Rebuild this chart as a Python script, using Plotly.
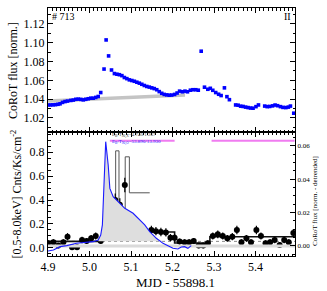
import plotly.graph_objects as go

# ---------------- data ----------------
# Top panel: CoRoT light curve (normalised)
corot_t = [4.900, 4.906, 4.912, 4.918, 4.924, 4.929, 4.935, 4.941, 4.947, 4.955,
           4.961, 4.967, 4.973, 4.979, 4.985, 4.991, 4.997, 5.003, 5.009, 5.015,
           5.021, 5.027, 5.035, 5.040, 5.046, 5.053, 5.060, 5.066, 5.072, 5.078,
           5.084, 5.090, 5.096, 5.102, 5.108, 5.114, 5.120, 5.126, 5.132, 5.138,
           5.144, 5.150, 5.156, 5.162, 5.168, 5.174, 5.180, 5.186, 5.192, 5.198,
           5.205, 5.211, 5.217, 5.224, 5.230, 5.236, 5.243, 5.249, 5.256, 5.262,
           5.269, 5.277, 5.285, 5.291, 5.297, 5.304, 5.311, 5.317, 5.325, 5.331,
           5.337, 5.352, 5.358, 5.364, 5.370, 5.376, 5.382, 5.388, 5.394, 5.401,
           5.407, 5.422, 5.428, 5.434, 5.441, 5.447, 5.453, 5.460, 5.466, 5.473,
           5.479, 5.484, 5.492]
corot_flux = [1.0338, 1.0338, 1.0339, 1.0341, 1.0345, 1.0350, 1.0365, 1.0374, 1.0379, 1.0386,
              1.0390, 1.0398, 1.0400, 1.0397, 1.0392, 1.0398, 1.0404, 1.0410, 1.0410, 1.0418,
              1.0428, 1.0470, 1.0720, 1.1030, 1.0860, 1.0710, 1.0672, 1.0665, 1.0660, 1.0650,
              1.0630, 1.0618, 1.0605, 1.0598, 1.0590, 1.0580, 1.0570, 1.0558, 1.0545, 1.0535,
              1.0528, 1.0520, 1.0512, 1.0500, 1.0480, 1.0462, 1.0450, 1.0445, 1.0442, 1.0443,
              1.0450, 1.0465, 1.0485, 1.0478, 1.0485, 1.0478, 1.0495, 1.0500, 1.0500, 1.0495,
              1.0910, 1.0527, 1.0505, 1.0515, 1.0494, 1.0470, 1.0452, 1.0438, 1.0520, 1.0426,
              1.0394, 1.0338, 1.0335, 1.0325, 1.0322, 1.0315, 1.0310, 1.0305, 1.0303, 1.0320,
              1.0338, 1.0326, 1.0320, 1.0322, 1.0328, 1.0337, 1.0330, 1.0320, 1.0312, 1.0310,
              1.0315, 1.0326, 1.0250]
trend_t = [4.900, 5.230]
trend_flux = [1.0380, 1.0445]

# Bottom panel: detrended CoRoT flux (right axis)
det_t = [4.900, 4.913, 4.929, 4.945, 4.969, 4.993, 5.009, 5.021, 5.027, 5.031,
         5.039, 5.045, 5.049, 5.057, 5.073, 5.085, 5.105, 5.121, 5.133, 5.145,
         5.161, 5.177, 5.189, 5.193, 5.201, 5.213, 5.221, 5.229, 5.237, 5.245]
det_flux = [-0.0030, -0.0024, -0.0004, 0.0002, 0.0016, 0.0022, 0.0026, 0.0036, 0.0066, 0.0126,
            0.0625, 0.0485, 0.0345, 0.0295, 0.0256, 0.0226, 0.0196, 0.0156, 0.0126, 0.0086,
            0.0046, 0.0016, 0.0002, -0.0004, -0.0014, -0.0018, -0.0006, -0.0004, -0.0014, 0.0002]
fill_floor = 0.0028
det_zero = 0.0

# Bottom panel: X-ray count rate [0.5-8.0 keV]
xray_t = [4.900, 4.913, 4.925, 4.937, 4.947, 4.958, 4.970, 4.982, 4.993, 5.004,
          5.015, 5.027, 5.038, 5.050, 5.062, 5.073, 5.085, 5.149, 5.160, 5.172,
          5.184, 5.195, 5.205, 5.217, 5.229, 5.240, 5.251, 5.263, 5.274, 5.285,
          5.297, 5.309, 5.321, 5.332, 5.344, 5.355, 5.366, 5.378, 5.389, 5.402,
          5.413, 5.424, 5.435, 5.446, 5.458, 5.469, 5.480, 5.491]
xray_rate = [0.040, 0.047, 0.020, 0.047, 0.094, 0.006, 0.006, 0.067, 0.058, 0.080,
             0.100, 0.058, 0.130, 0.280, 0.400, 0.360, 0.525, 0.150, 0.140, 0.133,
             0.130, 0.086, 0.086, 0.053, 0.047, 0.047, 0.058, 0.020, 0.020, 0.039,
             0.100, 0.114, 0.100, 0.080, 0.094, 0.150, 0.047, 0.080, 0.047, 0.150,
             0.100, 0.039, 0.047, 0.067, 0.025, 0.067, 0.047, 0.125]
xray_err = [0.025, 0.025, 0.022, 0.025, 0.030, 0.020, 0.020, 0.027, 0.025, 0.028,
            0.030, 0.025, 0.035, 0.045, 0.055, 0.055, 0.060, 0.035, 0.035, 0.035,
            0.035, 0.030, 0.030, 0.025, 0.025, 0.025, 0.025, 0.022, 0.022, 0.025,
            0.030, 0.032, 0.030, 0.028, 0.030, 0.035, 0.025, 0.028, 0.025, 0.035,
            0.030, 0.025, 0.025, 0.027, 0.022, 0.027, 0.025, 0.033]

# Bayesian blocks
block_edges = [4.900, 5.030, 5.145, 5.205, 5.290, 5.495]
block_rates = [0.055, 0.100, 0.133, 0.042, 0.094]
flare_edges = [5.030, 5.052, 5.063, 5.071, 5.086, 5.096, 5.145]
flare_rates = [0.100, 0.300, 0.810, 0.260, 0.760, 0.460]
quiescent_level = 0.055

# Optical coverage markers
cover_start = [5.049, 5.294]
cover_end = [5.205, 5.494]
cover_level = 0.893

x_range = [4.900, 5.495]
label_x = 5.049
label_xray = "E<sub>B</sub>/T<sub>90,X</sub>=4.740/1.267"
label_opt = "E<sub>B</sub>/T<sub>90,O</sub>=53.890/13.930"

# ---------------- figure ----------------
FONT = "Liberation Serif, Times New Roman, serif"
fig = go.Figure()

# top panel
fig.add_trace(go.Scatter(x=trend_t, y=trend_flux, mode="lines",
                         line=dict(color="#c4c4c4", width=3.5),
                         xaxis="x2", yaxis="y3", hoverinfo="skip"))
fig.add_trace(go.Scatter(x=corot_t, y=corot_flux, mode="markers",
                         marker=dict(symbol="square", size=3.6, color="#0000ff", line=dict(width=0)),
                         xaxis="x2", yaxis="y3"))

# bottom panel
fig.add_trace(go.Scatter(x=x_range, y=[det_zero, det_zero], mode="lines",
                         line=dict(color="#dadada", width=3), xaxis="x", yaxis="y2",
                         hoverinfo="skip"))
fill_t = [t for t, f in zip(det_t, det_flux) if 5.020 <= t <= 5.180]
fill_f = [max(f, fill_floor) for t, f in zip(det_t, det_flux) if 5.020 <= t <= 5.180]
fig.add_trace(go.Scatter(x=fill_t, y=[fill_floor] * len(fill_t), mode="lines",
                         line=dict(width=0, color="rgba(0,0,0,0)"), xaxis="x", yaxis="y2",
                         hoverinfo="skip"))
fig.add_trace(go.Scatter(x=fill_t, y=fill_f, mode="lines", fill="tonexty",
                         fillcolor="#dedede", line=dict(width=0, color="rgba(0,0,0,0)"),
                         xaxis="x", yaxis="y2", hoverinfo="skip"))
fig.add_trace(go.Scatter(x=x_range, y=[quiescent_level, quiescent_level], mode="lines",
                         line=dict(color="#888888", width=1, dash="dot"),
                         xaxis="x", yaxis="y", hoverinfo="skip"))
fig.add_trace(go.Scatter(x=det_t, y=det_flux, mode="lines",
                         line=dict(color="#1a1aff", width=1.1), xaxis="x", yaxis="y2"))
fig.add_trace(go.Scatter(x=flare_edges, y=flare_rates + [flare_rates[-1]], mode="lines",
                         line=dict(color="#555555", width=1, shape="hv"),
                         xaxis="x", yaxis="y", hoverinfo="skip"))
fig.add_trace(go.Scatter(x=block_edges, y=block_rates + [block_rates[-1]], mode="lines",
                         line=dict(color="#111111", width=1.6, shape="hv"),
                         xaxis="x", yaxis="y", hoverinfo="skip"))
fig.add_trace(go.Scatter(x=xray_t, y=xray_rate, mode="markers",
                         marker=dict(symbol="circle", size=6, color="black"),
                         error_y=dict(type="data", array=xray_err, color="black",
                                      thickness=1.2, width=0),
                         xaxis="x", yaxis="y"))
cx, cy = [], []
for s, e in zip(cover_start, cover_end):
    cx += [s, e, None]
    cy += [cover_level, cover_level, None]
fig.add_trace(go.Scatter(x=cx, y=cy, mode="lines", line=dict(color="#f07cf0", width=2),
                         xaxis="x", yaxis="y", hoverinfo="skip"))

tick_font = dict(family=FONT, size=12, color="black")
common_x = dict(range=x_range, ticks="inside", ticklen=5, tickwidth=1, dtick=0.1, tick0=0,
                showline=True, linecolor="black", linewidth=1, mirror="ticks",
                showgrid=False, zeroline=False, tickcolor="black",
                minor=dict(dtick=0.01, ticklen=2.5, ticks="inside", tickcolor="black"))

fig.update_layout(
    width=327, height=291,
    margin=dict(l=48, r=32, t=8, b=35),
    paper_bgcolor="white", plot_bgcolor="white",
    showlegend=False,
    font=dict(family=FONT, color="black"),
    xaxis=dict(**common_x, domain=[0, 1], anchor="y", tickfont=tick_font,
               tickformat=".1f"),
    xaxis2=dict(**common_x, domain=[0, 1], anchor="y3", showticklabels=False),
    yaxis=dict(domain=[0, 0.5], anchor="x", range=[-0.067, 0.967], dtick=0.2, tick0=0,
               tickformat=".1f", ticks="inside", ticklen=5, tickcolor="black",
               showline=True, linecolor="black", linewidth=1, mirror=False,
               showgrid=False, zeroline=False, tickfont=tick_font,
               minor=dict(dtick=0.05, ticklen=2.5, ticks="inside", tickcolor="black")),
    yaxis2=dict(overlaying="y", anchor="x", side="right", range=[-0.006, 0.0683],
                dtick=0.02, tick0=0, tickformat=".2f", ticks="inside", ticklen=5,
                tickcolor="black", showline=True, linecolor="black", linewidth=1,
                showgrid=False, zeroline=False,
                tickfont=dict(family=FONT, size=7, color="black"),
                minor=dict(dtick=0.005, ticklen=2.5, ticks="inside", tickcolor="black")),
    yaxis3=dict(domain=[0.5, 1], anchor="x2", range=[1.005, 1.137], dtick=0.02, tick0=0,
                tickformat=".2f", ticks="inside", ticklen=5, tickcolor="black",
                showline=True, linecolor="black", linewidth=1, mirror="ticks",
                showgrid=False, zeroline=False, tickfont=tick_font,
                minor=dict(dtick=0.01, ticklen=2.5, ticks="inside", tickcolor="black")),
)

ann = [
    dict(text="# 713", x=0.01, y=0.995, xref="paper", yref="paper", xanchor="left",
         yanchor="top", showarrow=False, font=dict(family=FONT, size=10)),
    dict(text="II", x=0.99, y=0.995, xref="paper", yref="paper", xanchor="right",
         yanchor="top", showarrow=False, font=dict(family=FONT, size=10)),
    dict(text="CoRoT flux [norm.]", x=-0.142, y=0.75, xref="paper", yref="paper",
         xanchor="center", yanchor="middle",
         textangle=-90, showarrow=False, font=dict(family=FONT, size=12)),
    dict(text="[0.5-8.0keV] Cnts/Ks/cm<sup>-2</sup>", x=-0.128, y=0.25, xref="paper",
         yref="paper", xanchor="center", yanchor="middle",
         textangle=-90, showarrow=False, font=dict(family=FONT, size=12)),
    dict(text="CoRoT flux [norm. - detrended]", x=1.081, y=0.222, xref="paper",
         yref="paper", xanchor="center", yanchor="middle",
         textangle=-90, showarrow=False, font=dict(family=FONT, size=7)),
    dict(text="MJD - 55898.1", x=0.518, y=-0.105, xref="paper", yref="paper",
         xanchor="center", yanchor="middle",
         showarrow=False, font=dict(family=FONT, size=13)),
    dict(text=label_xray, x=label_x, y=0.935, xref="x", yref="y", xanchor="left",
         yanchor="middle", showarrow=False, font=dict(family=FONT, size=5, color="#333333")),
    dict(text=label_opt, x=label_x, y=0.88, xref="x", yref="y", xanchor="left",
         yanchor="middle", showarrow=False, font=dict(family=FONT, size=5, color="#2222ff")),
]
fig.update_layout(annotations=ann)

fig.write_html("out.html", config={"displayModeBar": False},
               post_script="document.body.style.margin='0px';"
                           "document.body.style.overflow='hidden';")
